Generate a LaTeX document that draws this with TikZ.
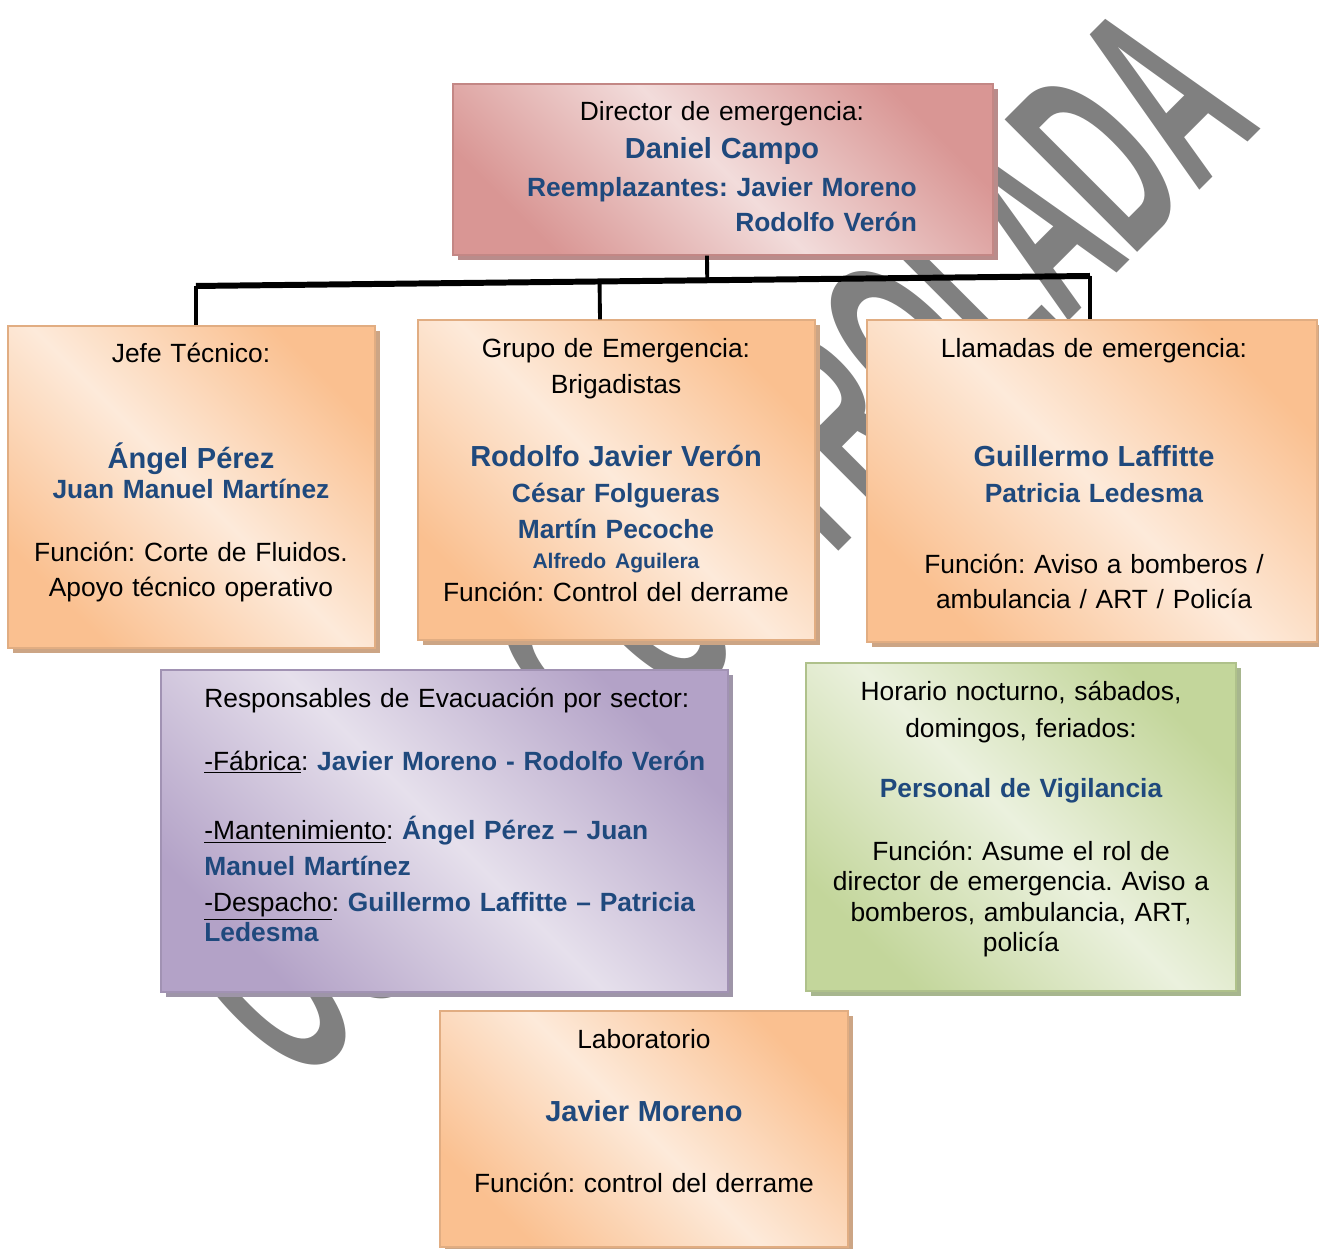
\documentclass[tikz,border=0pt]{standalone}
\usepackage{graphicx}
\usepackage{fontspec}
\setmainfont{Liberation Sans}
\usetikzlibrary{calc, shadows}
\frenchspacing

\definecolor{nameblue}{HTML}{1F497D}
\definecolor{pinkdark}{HTML}{D99694}
\definecolor{pinklight}{HTML}{F2DCDB}
\definecolor{pinkshadow}{HTML}{B98C8B}
\definecolor{orangedark}{HTML}{FAC090}
\definecolor{orangelight}{HTML}{FDEADA}
\definecolor{orangeshadow}{HTML}{CCA585}
\definecolor{purpledark}{HTML}{B3A2C7}
\definecolor{purplelight}{HTML}{E6E0EC}
\definecolor{purpleshadow}{HTML}{9E95A8}
\definecolor{greendark}{HTML}{C3D69B}
\definecolor{greenlight}{HTML}{EBF1DE}
\definecolor{greenshadow}{HTML}{A7B68E}
\definecolor{watermark}{HTML}{808080}

\newcommand{\nm}[1]{{\bfseries\color{nameblue}#1}}
\newcommand{\bignm}[1]{{\fontsize{16.5}{20}\selectfont\bfseries\color{nameblue}#1}}
\newcommand{\smallnm}[1]{{\fontsize{12}{20}\selectfont\bfseries\color{nameblue}#1}}

\tikzset{
    card/.style={rectangle, inner sep=0pt, draw=#1dark!90!black, line width=0.8pt,
        left color=#1dark, right color=#1dark, middle color=#1light, shading angle=135,
        drop shadow={shadow xshift=0.1cm, shadow yshift=-0.1cm, fill=#1shadow, opacity=1}},
    cardtext/.style={inner sep=0pt, anchor=base, align=center, text width=#1,
        font=\fontsize{15}{20}\selectfont},
    link/.style={line width=2.2pt, black},
}

\begin{document}
\begin{tikzpicture}
    \useasboundingbox (0,0) rectangle (26.38,24.98);

    % marca de agua
    \node[rotate=45, anchor=base west, inner sep=0pt, text=watermark] (marca) at (6.00,3.18)
        {\scalebox{0.474}[1]{\fontsize{155}{155}\selectfont\bfseries COPIA CONTROLADA}};

    % cajas
    \node[card=pink, minimum width=10.80cm, minimum height=3.42cm] (dir) at (14.46,21.59) {};
    \node[card=orange, minimum width=7.34cm, minimum height=6.44cm] (jefe) at (3.83,15.24) {};
    \node[card=orange, minimum width=7.94cm, minimum height=6.40cm] (grupo) at (12.33,15.38) {};
    \node[card=orange, minimum width=9.00cm, minimum height=6.44cm] (llam) at (21.84,15.36) {};
    \node[card=purple, minimum width=11.34cm, minimum height=6.44cm] (evac) at (8.89,8.36) {};
    \node[card=green, minimum width=8.60cm, minimum height=6.56cm] (vigil) at (20.42,8.44) {};
    \node[card=orange, minimum width=8.16cm, minimum height=4.72cm] (lab) at (12.88,2.40) {};

    % textos
    \node[cardtext=10cm] (dirtxt) at (14.44,22.56) {Director de emergencia:\\[1.6pt]
        \bignm{Daniel Campo}\\[1.1pt]
        \nm{Reemplazantes: Javier Moreno}\\
        \nm{\hphantom{Reemplazantes: Javier Moreno}\llap{Rodolfo Verón}}};
    \node[cardtext=7cm] (jefetxt) at (3.82,17.72) {Jefe Técnico:\\[39.8pt]
        \bignm{Ángel Pérez}\\[-2.4pt]
        \nm{Juan Manuel Martínez}\\[15.3pt]
        Función: Corte de Fluidos.\\
        Apoyo técnico operativo};
    \node[cardtext=7.6cm] (grupotxt) at (12.32,17.82) {Grupo de Emergencia:\\
        Brigadistas\\[21.5pt]
        \bignm{Rodolfo Javier Verón}\\[0.5pt]
        \nm{César Folgueras}\\[0.5pt]
        \nm{Martín Pecoche}\\[-2.9pt]
        \smallnm{Alfredo Aguilera}\\[-1.2pt]
        Función: Control del derrame};
    \node[cardtext=8.6cm] (llamtxt) at (21.88,17.82) {Llamadas de emergencia:\\[41.5pt]
        \bignm{Guillermo Laffitte}\\[0.5pt]
        \nm{Patricia Ledesma}\\[20.4pt]
        Función: Aviso a bomberos /\\
        ambulancia / ART / Policía};
    \node[cardtext=10.4cm, anchor=base west, align=left] (evactxt) at (4.08,10.82)
        {Responsables de Evacuación por sector:\\[15.3pt]
        \underline{-Fábrica}: \nm{Javier Moreno - Rodolfo Verón}\\[19.8pt]
        \underline{-Mantenimiento}: \nm{Ángel Pérez – Juan}\\[0.5pt]
        \nm{Manuel Martínez}\\
        \underline{-Despacho}: \nm{Guillermo Laffitte – Patricia}\\[-2.9pt]
        \nm{Ledesma}};
    \node[cardtext=8.2cm] (vigiltxt) at (20.42,10.96) {Horario nocturno, sábados,\\[0.5pt]
        domingos, feriados:\\[14.7pt]
        \nm{Personal de Vigilancia}\\[15.3pt]
        Función: Asume el rol de\\[-2.4pt]
        director de emergencia. Aviso a\\[-2.4pt]
        bomberos, ambulancia, ART,\\[-2.9pt]
        policía};
    \node[cardtext=7.8cm] (labtxt) at (12.88,4.00) {Laboratorio\\[21.5pt]
        \bignm{Javier Moreno}\\[20.4pt]
        Función: control del derrame};

    % conectores
    \coordinate (barL) at (3.92,19.26);
    \coordinate (barR) at (21.80,19.46);
    \coordinate (dirbot) at ([xshift=-0.32cm]dir.south);
    \coordinate (grupotop) at ([xshift=-0.33cm]grupo.north);
    \draw[link, line width=3.4pt] (barL) -- (barR);
    \draw[link] (dirbot) -- ($(barL)!(dirbot)!(barR)$);
    \draw[link] (grupotop) -- ($(barL)!(grupotop)!(barR)$);
    \draw[link] (barL) -- (barL |- jefe.north);
    \draw[link] (barR) -- (barR |- llam.north);
\end{tikzpicture}
\end{document}
